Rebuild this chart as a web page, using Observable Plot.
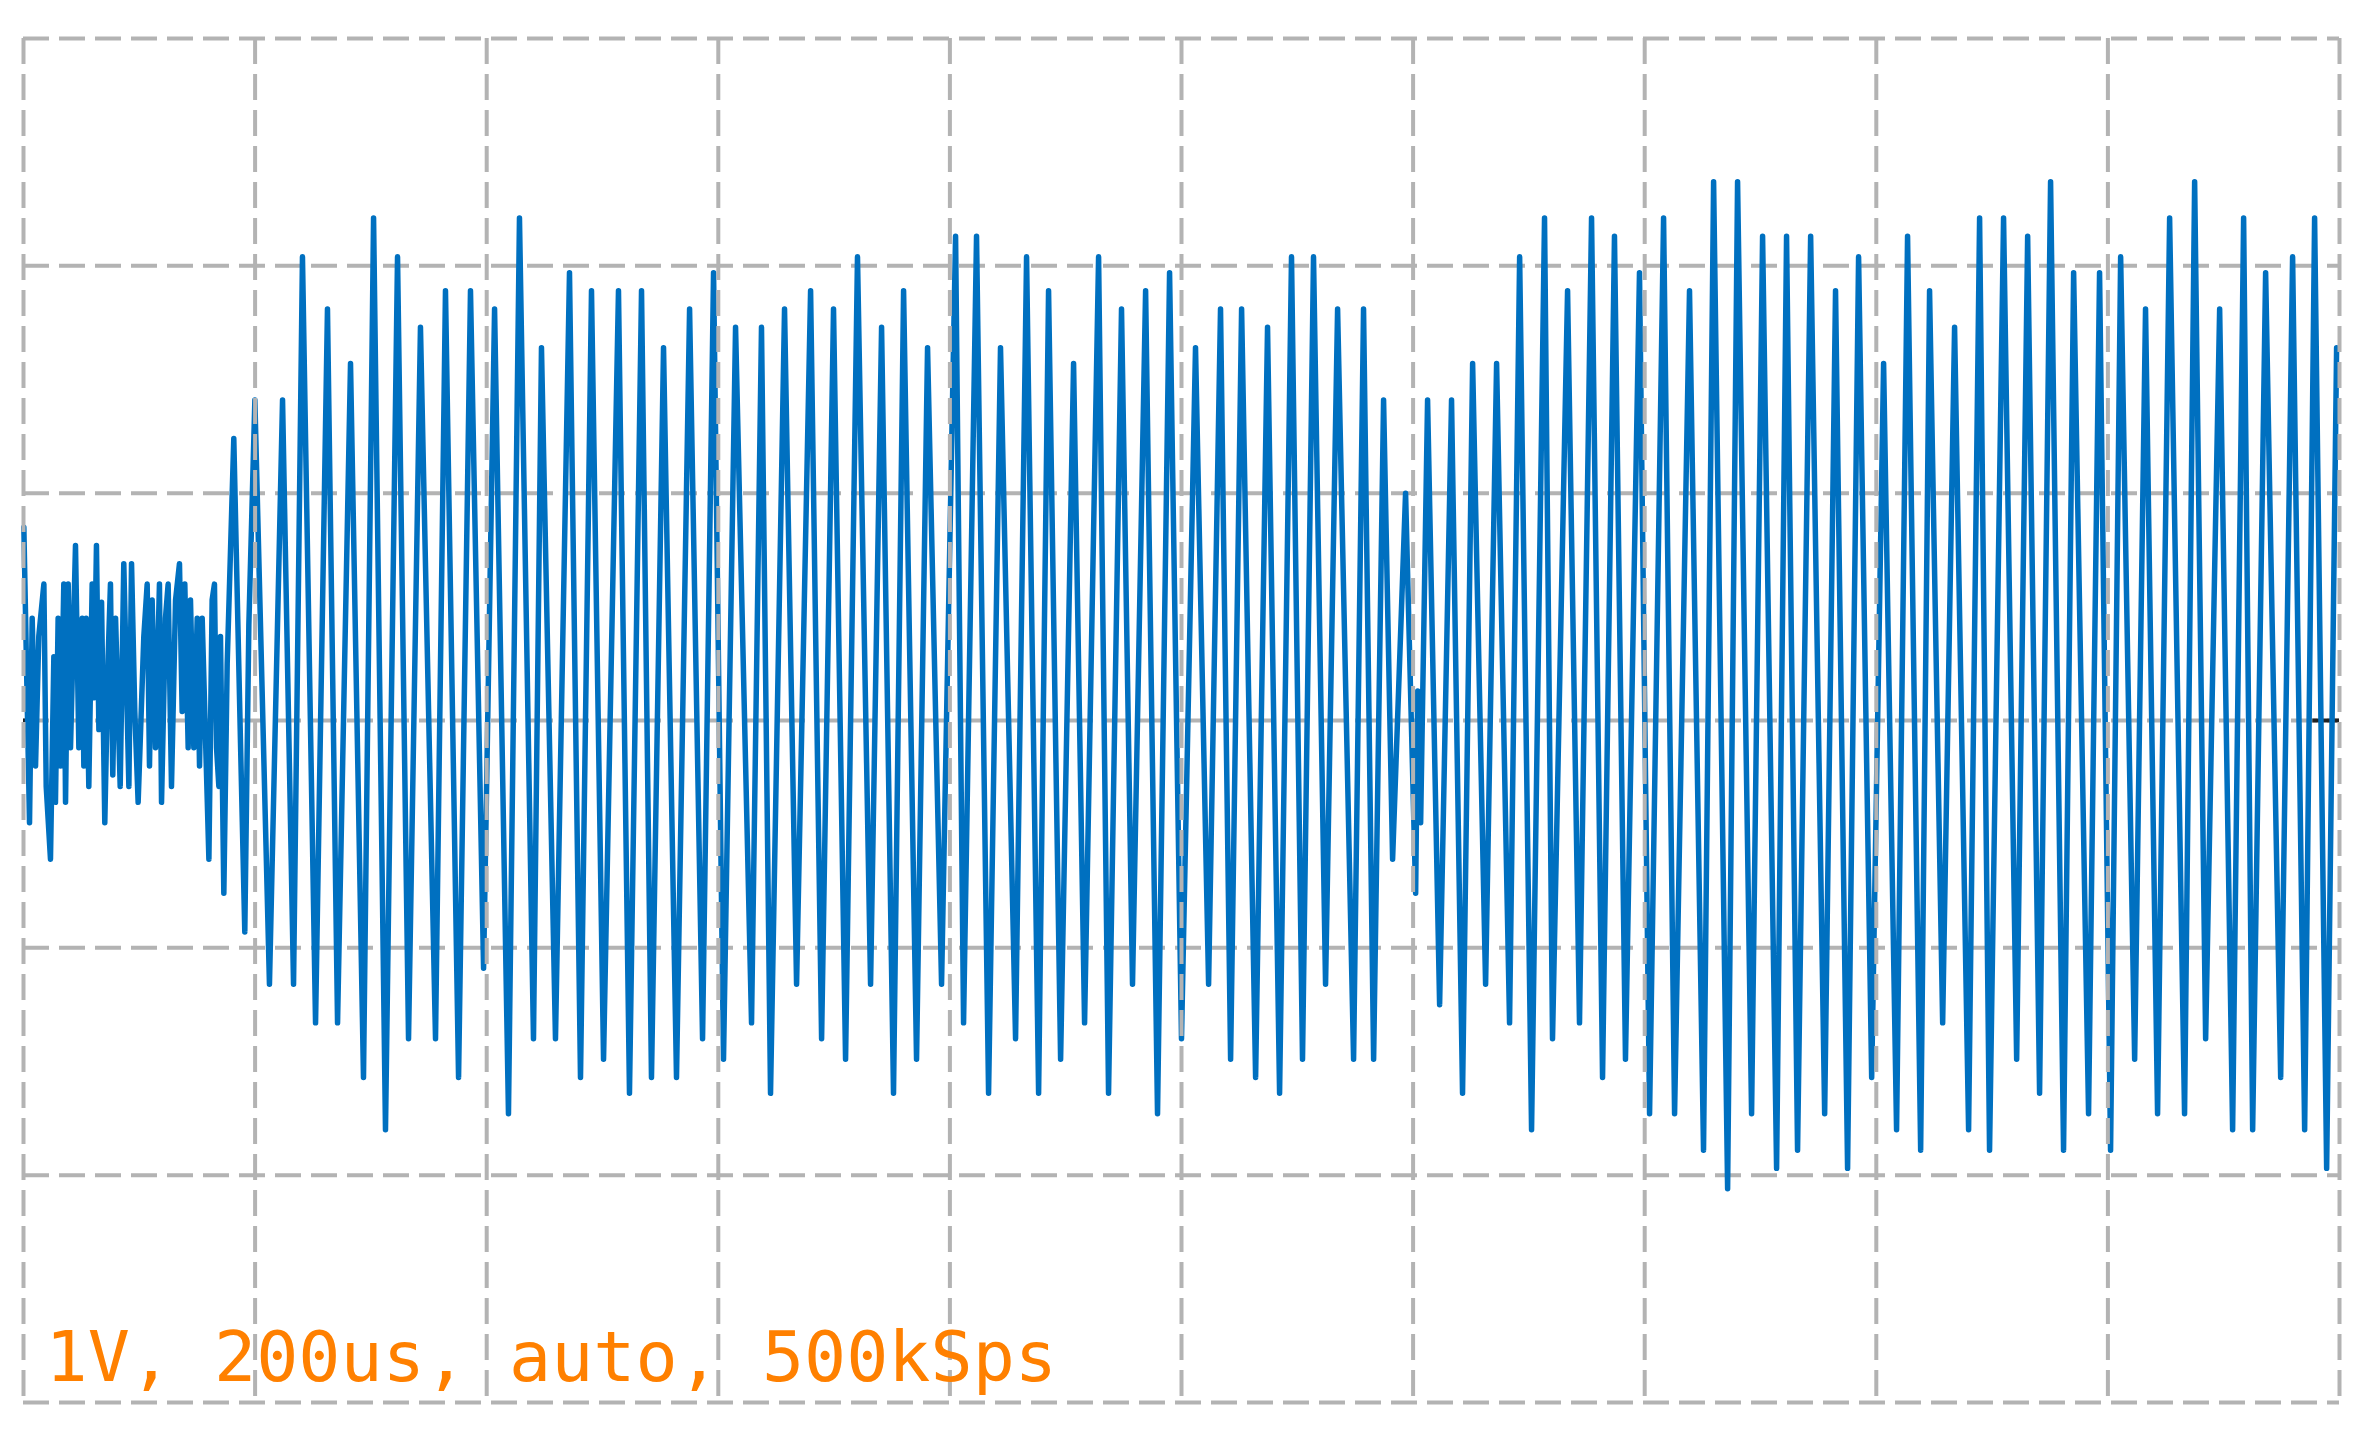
<!DOCTYPE html>
<html><head><meta charset="utf-8">
<script src="https://cdn.jsdelivr.net/npm/d3@7"></script>
<script src="https://cdn.jsdelivr.net/npm/@observablehq/plot@0.6"></script>
<style>html,body{margin:0;padding:0;background:#fff;} #chart svg{display:block}</style>
</head><body><div id="chart"></div>
<script>
// Sample times in microseconds (peaks/troughs)
const timeUs = [
0.3,5.2,7.5,10.4,13.2,17.6,19.6,23.3,26.2,27.6,29.9,32.0,34.8,36.3,38.6,40.6,44.9,47.8,50.7,52.1,
54.1,56.4,59.3,61.0,63.0,65.1,67.4,70.2,73.1,75.1,77.1,79.5,83.5,86.6,91.0,93.3,96.1,99.0,103.9,106.8,
108.8,111.1,114.0,117.4,119.2,122.6,124.9,127.8,131.3,134.7,137.0,139.3,142.2,144.2,147.1,150.0,152.0,154.3,160.1,162.9,
164.9,166.7,168.7,170.1,173.0,175.9,181.6,187.4,191.1,194.6,199.8,
212.4,223.7,233.2,240.9,252.2,262.5,271.2,282.4,293.6,302.3,312.6,323.0,332.5,342.8,355.8,364.4,375.7,386.0,397.3,
406.8,418.8,428.3,440.4,447.3,459.4,471.5,481.0,490.5,500.9,513.8,523.3,533.7,542.3,552.7,563.9,575.2,586.4,595.9,604.5,
614.9,628.7,637.3,645.1,657.2,667.6,679.7,689.2,699.5,709.9,720.2,731.5,741.0,751.3,760.0,771.2,780.7,792.8,
804.9,811.8,823.0,833.4,843.7,856.7,866.2,876.6,885.2,895.6,906.8,916.3,928.4,937.0,948.2,957.7,969.0,979.3,989.7,1000.0,
1012.1,1023.4,1033.7,1042.4,1051.9,1064.0,1074.3,1084.7,1095.0,1104.5,1114.0,1124.4,1134.8,1148.6,1157.2,1165.9,1174.5,1182.3,1193.5,1202.2,
1204.0,1206.5,1212.5,1222.9,1233.2,1242.7,1251.4,1262.6,1272.1,1283.3,1292.0,1302.3,1313.5,1320.4,1333.4,1343.7,1354.1,1363.6,1373.9,1383.4,
1395.5,1404.2,1416.3,1425.8,1438.7,1450.8,1459.5,1471.6,1480.2,1492.3,1501.8,1513.9,1522.5,1532.0,1543.3,1555.4,1564.8,1575.2,1584.7,1596.0,
1606.3,1617.5,1627.0,1638.3,1646.0,1657.3,1667.6,1679.7,1689.2,1697.8,1709.9,1721.2,1730.7,1741.0,1750.5,1761.7,1770.4,1783.3,1792.8,1802.3,
1811.0,1823.1,1832.5,1842.9,1853.3,1866.2,1874.9,1884.4,1896.5,1907.7,1917.2,1925.0,1936.2,1949.2,1959.5,1969.9,1978.5,1988.9,1997.5
];
// Voltage at each sample (V)
const volts = [
0.85,-0.45,0.45,-0.20,0.37,0.60,-0.29,-0.61,0.28,-0.36,0.45,-0.20,0.60,-0.36,0.60,-0.12,0.77,-0.12,0.45,-0.20,
0.45,-0.29,0.60,0.10,0.77,-0.04,0.52,-0.45,0.28,0.60,-0.24,0.45,-0.29,0.69,-0.29,0.69,0.04,-0.36,0.37,0.60,
-0.20,0.53,-0.12,0.60,-0.36,0.45,0.60,-0.29,0.53,0.69,0.04,0.60,-0.12,0.53,-0.12,0.45,-0.20,0.45,-0.61,0.53,
0.60,-0.12,-0.29,0.37,-0.76,0.25,1.24,-0.10,-0.93,0.42,1.41,
-1.16,1.41,-1.16,2.04,-1.33,1.81,-1.33,1.57,-1.57,2.21,-1.80,2.04,-1.40,1.73,-1.40,1.89,-1.57,1.89,-1.09,
1.81,-1.73,2.21,-1.40,1.64,-1.40,1.97,-1.57,1.89,-1.49,1.89,-1.64,1.89,-1.57,1.64,-1.57,1.81,-1.40,1.97,-1.49,
1.73,-1.33,1.73,-1.64,1.81,-1.16,1.89,-1.40,1.81,-1.49,2.04,-1.16,1.73,-1.64,1.89,-1.49,1.64,-1.16,
2.13,-1.33,2.13,-1.64,1.64,-1.40,2.04,-1.64,1.89,-1.49,1.57,-1.33,2.04,-1.64,1.81,-1.16,1.89,-1.73,1.97,-1.40,
1.64,-1.16,1.81,-1.49,1.81,-1.57,1.73,-1.64,2.04,-1.49,2.04,-1.16,1.81,-1.49,1.81,-1.49,1.41,-0.61,1.00,-0.76,
0.13,-0.45,1.41,-1.25,1.41,-1.64,1.57,-1.16,1.57,-1.33,2.04,-1.80,2.21,-1.40,1.89,-1.33,2.21,-1.57,2.13,-1.49,
1.97,-1.73,2.21,-1.73,1.89,-1.89,2.37,-2.06,2.37,-1.73,2.13,-1.97,2.13,-1.89,2.13,-1.73,1.89,-1.97,2.04,-1.57,
1.57,-1.80,2.13,-1.89,1.89,-1.33,1.73,-1.80,2.21,-1.89,2.21,-1.49,2.13,-1.64,2.37,-1.89,1.97,-1.73,1.97,-1.89,
2.04,-1.49,1.81,-1.73,2.21,-1.73,2.37,-1.40,1.81,-1.80,2.21,-1.80,1.97,-1.57,2.04,-1.80,2.21,-1.97,1.64
];
const gridTimes = [0,200,400,600,800,1000,1200,1400,1600,1800,2000];
const gridVolts = [-3,-2,-1,0,1,2,3];
const zeroMarkerStart = [0, 1977];
const zeroMarkerEnd = [4, 2000];
const label = "1V, 200us, auto, 500kSps";

const samples = timeUs.map((t, i) => ({t, v: volts[i]}));
const markers = zeroMarkerStart.map((s, i) => ({s, e: zeroMarkerEnd[i]}));
const gridStyle = {stroke: "#b3b3b3", strokeWidth: 4, strokeDasharray: "26,10"};

const chart = Plot.plot({
  width: 2371, height: 1443,
  marginLeft: 23, marginRight: 32, marginTop: 38, marginBottom: 41,
  x: {domain: [0, 2000], axis: null},
  y: {domain: [-3, 3], axis: null},
  style: {background: "#fff", overflow: "visible"},
  marks: [
    Plot.ruleY(gridVolts, gridStyle),
    Plot.ruleY(markers, {y: () => 0, x1: "s", x2: "e", stroke: "#222", strokeWidth: 4}),
    Plot.line(samples, {x: "t", y: "v", stroke: "#0070c0", strokeWidth: 5.5}),
    Plot.ruleX(gridTimes, gridStyle),
    Plot.text([label], {text: d => d, frameAnchor: "bottom-left", textAnchor: "start", lineAnchor: "bottom",
      dx: 22, dy: -22, fill: "#ff8000", fontSize: 70, fontFamily: "DejaVu Sans Mono"})
  ]
});
document.getElementById("chart").appendChild(chart);
</script>
</body></html>
